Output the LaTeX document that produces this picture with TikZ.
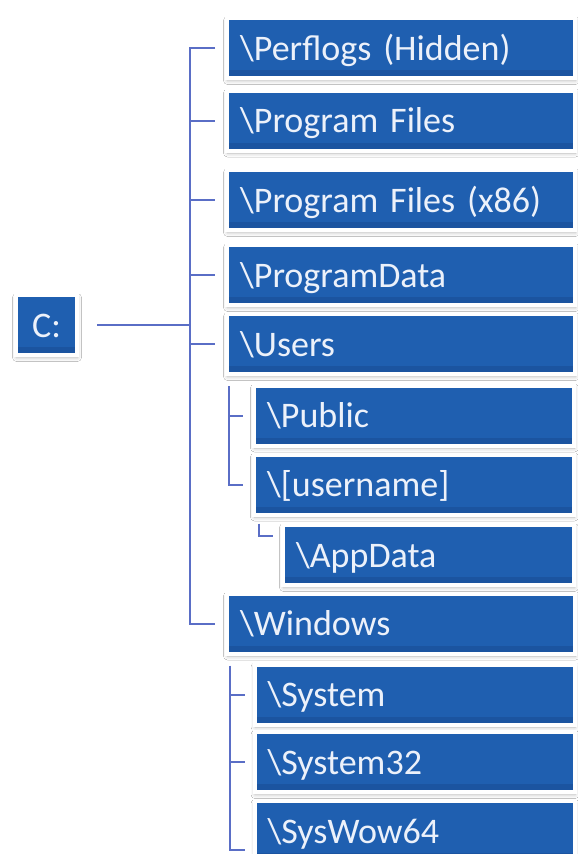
\documentclass[tikz,border=0pt]{standalone}
\usepackage{fontspec}
\setmainfont{Carlito}
\usetikzlibrary{shadows.blur}

\definecolor{folderblue}{RGB}{31,95,176}
\definecolor{folderdark}{RGB}{27,84,160}
\definecolor{linkblue}{RGB}{90,110,198}
\definecolor{labelwhite}{RGB}{236,241,250}

\begin{document}
\begin{tikzpicture}[x=1pt,y=-1pt,
    folder/.style={rectangle, draw=white, line width=4pt, fill=folderblue,
      text=labelwhite, font=\fontsize{36}{40}\selectfont,
      minimum height=60pt, inner xsep=13pt, inner ysep=0pt,
      text height=24pt, text depth=0pt, align=left,
      blur shadow={shadow xshift=0.5pt, shadow yshift=-2.5pt,
        shadow blur radius=4pt, shadow opacity=30},
      path picture={\fill[folderdark] ([yshift=8pt]path picture bounding box.south west)
        rectangle (path picture bounding box.south east);}},
    top/.style={folder, text width=322pt, minimum width=348pt},
    sub/.style={folder, text width=294pt, minimum width=320pt},
    subsub/.style={folder, text width=265pt, minimum width=291pt},
    link/.style={draw=linkblue, line width=2pt}]
  \useasboundingbox (0,0) rectangle (578,854);
  \fill[white] (0,0) rectangle (578,854);
  % drive
  \node[folder, minimum width=61pt, align=center, inner xsep=0pt] (C) at (46.5,325) {C:};
  % first level
  \node[top] (PL) at (401,48) {\textbackslash Perflogs (Hidden)};
  \node[top] (PF) at (401,120.5) {\textbackslash Program Files};
  \node[top] (PX) at (401,200) {\textbackslash Program Files (x86)};
  \node[top] (PD) at (401,275) {\textbackslash ProgramData};
  \node[top] (US) at (401,344) {\textbackslash Users};
  \node[sub] (PU) at (414,415.5) {\textbackslash Public};
  \node[sub] (UN) at (414,484.5) {\textbackslash [username]};
  \node[subsub] (AD) at (428.5,555) {\textbackslash AppData};
  \node[top] (WI) at (401,623.5) {\textbackslash Windows};
  \node[sub] (SY) at (414.5,694.5) {\textbackslash System};
  \node[sub] (S32) at (414.5,762) {\textbackslash System32};
  \node[sub] (SW) at (414.5,831) {\textbackslash SysWow64};
  % trunks
  \coordinate (T) at (190,0);
  \coordinate (U) at (229,0);
  \coordinate (A) at (259,0);
  \coordinate (W) at (230,0);
  \draw[link] ([xshift=18pt]C.east) -- (C.east -| T);
  \draw[link] ([xshift=-10pt]PL.west) -- (PL.west -| T) -- (WI.west -| T) -- ([xshift=-10pt]WI.west);
  \foreach \n in {PF,PX,PD,US}
    \draw[link] (\n.west -| T) -- ([xshift=-10pt]\n.west);
  \draw[link] ([yshift=-10pt]US.south -| U) -- (UN.west -| U) -- ([xshift=-9pt]UN.west);
  \draw[link] (PU.west -| U) -- ([xshift=-9pt]PU.west);
  \draw[link] ([yshift=-7pt]UN.south -| A) |- ([xshift=-8pt,yshift=-13pt]AD.north west);
  \draw[link] ([yshift=-10pt]WI.south -| W) |- ([xshift=-8pt,yshift=-19pt]SW.west);
  \foreach \n in {SY,S32}
    \draw[link] (\n.west -| W) -- ([xshift=-8pt]\n.west);
\end{tikzpicture}
\end{document}
